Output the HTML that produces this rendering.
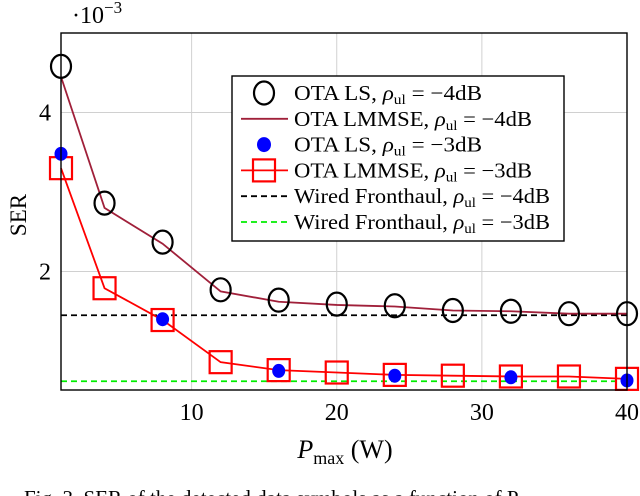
<!DOCTYPE html>
<html><head><meta charset="utf-8"><style>
html,body{margin:0;padding:0;background:#fff;overflow:hidden;width:640px;height:496px}
svg{display:block;font-family:"Liberation Serif",serif}
</style></head><body>
<svg id="chart" width="640" height="496" viewBox="0 0 640 496" xmlns="http://www.w3.org/2000/svg">
<g id="grid"></g><g id="series"></g><g id="axes"></g><g id="legend"></g>
</svg>
<script>
const xCats=[1,4,8,12,16,20,24,28,32,36,40];
const lsM4=[4.58,2.86,2.37,1.77,1.64,1.59,1.57,1.51,1.50,1.47,1.47];
const lmmseM4=[4.45,2.8,2.35,1.75,1.62,1.58,1.56,1.51,1.50,1.47,1.47];
const lsM3X=[1,8,16,24,32,40];
const lsM3=[3.48,1.40,0.75,0.69,0.67,0.63];
const lmmseM3=[3.30,1.79,1.39,0.86,0.76,0.73,0.70,0.69,0.68,0.68,0.65];
const wiredM4=1.45;
const wiredM3=0.62;
const xTicks=[10,20,30,40];
const yTicks=[2,4];
const ns="http://www.w3.org/2000/svg";
const L=61,R=627,T=33,B=390,xMin=1,xMax=40,yMin=0.51,yMax=5.0;
const sx=v=>L+(v-xMin)/(xMax-xMin)*(R-L);
const sy=v=>B-(v-yMin)/(yMax-yMin)*(B-T);
function mk(tag,attrs,parent,text){const e=document.createElementNS(ns,tag);for(const k in attrs)e.setAttribute(k,attrs[k]);if(text!==undefined)e.textContent=text;document.getElementById(parent)?document.getElementById(parent).appendChild(e):parent.appendChild(e);return e;}
xTicks.forEach(t=>{const g=mk('line',{x1:sx(t),x2:sx(t),y1:T,y2:B,stroke:'#d0d0d0','stroke-width':1},'grid');

});
yTicks.forEach(t=>{const g=mk('line',{x1:L,x2:R,y1:sy(t),y2:sy(t),stroke:'#d0d0d0','stroke-width':1},'grid');

});
const pts=(xs,ys)=>xs.map((x,i)=>sx(x)+','+sy(ys[i])).join(' ');
let e;
e=mk('line',{x1:L,x2:R,y1:sy(wiredM4),y2:sy(wiredM4),stroke:'#000','stroke-width':1.8,'stroke-dasharray':'6 4'},'series');


e=mk('line',{x1:L,x2:R,y1:sy(wiredM3),y2:sy(wiredM3),stroke:'#00ee00','stroke-width':1.8,'stroke-dasharray':'6 4'},'series');


e=mk('polyline',{points:pts(xCats,lmmseM4),fill:'none',stroke:'#a0203a','stroke-width':1.8},'series');


e=mk('polyline',{points:pts(xCats,lmmseM3),fill:'none',stroke:'#ff0000','stroke-width':1.8},'series');


xCats.forEach((x,i)=>{const c=mk('ellipse',{cx:sx(x),cy:sy(lsM4[i]),rx:10,ry:11.5,fill:'none',stroke:'#000','stroke-width':2.2},'series');

});
xCats.forEach((x,i)=>{const r=mk('rect',{x:sx(x)-11,y:sy(lmmseM3[i])-11,width:22,height:22,fill:'none',stroke:'#ff0000','stroke-width':2.2},'series');

});
lsM3X.forEach((x,i)=>{const c=mk('ellipse',{cx:sx(x),cy:sy(lsM3[i]),rx:6.5,ry:7,fill:'#0000ff'},'series');

});
e=mk('rect',{x:L,y:T,width:R-L,height:B-T,fill:'none',stroke:'#000','stroke-width':1.4},'axes');


xTicks.forEach(t=>{const tx=mk('text',{x:sx(t),y:420,'font-size':24,'text-anchor':'middle'},'axes',String(t));

});
yTicks.forEach(t=>{const tx=mk('text',{x:51,y:sy(t)+8,'font-size':24,'text-anchor':'end'},'axes',String(t));

});
e=mk('text',{x:72,y:23,'font-size':24},'axes');
e.innerHTML='·10<tspan dy="-10" font-size="17">−3</tspan>';


e=mk('text',{x:0,y:0,'font-size':23,'text-anchor':'middle',transform:'translate(26,215) rotate(-90)'},'axes','SER');


e=mk('text',{x:345,y:458,'font-size':26,'text-anchor':'middle'},'axes');
e.innerHTML='<tspan font-style="italic">P</tspan><tspan font-size="18" dy="6">max</tspan><tspan dy="-6"> (W)</tspan>';


e=mk('text',{x:24,y:505,'font-size':21},'axes','Fig. 3. SER of the detected data symbols as a function of P');


e=mk('rect',{x:232,y:76,width:332,height:165,fill:'#fff',stroke:'#000','stroke-width':1.4},'legend');


const labels=['OTA LS, ','OTA LMMSE, ','OTA LS, ','OTA LMMSE, ','Wired Fronthaul, ','Wired Fronthaul, '];
const dbs=['−4dB','−4dB','−3dB','−3dB','−4dB','−3dB'];
const widths=[188,238,188,238,256,256];
labels.forEach((lb,i)=>{const y=93+i*25.8;const g=mk('g',{},'legend');


if(i===0)mk('ellipse',{cx:264,cy:y,rx:10,ry:11.5,fill:'none',stroke:'#000','stroke-width':2.2},g);
if(i===1)mk('line',{x1:241,x2:288,y1:y,y2:y,stroke:'#a0203a','stroke-width':1.8},g);
if(i===2)mk('ellipse',{cx:264,cy:y,rx:7,ry:7.5,fill:'#0000ff'},g);
if(i===3){mk('line',{x1:241,x2:288,y1:y,y2:y,stroke:'#ff0000','stroke-width':1.8},g);mk('rect',{x:253,y:y-11,width:22,height:22,fill:'none',stroke:'#ff0000','stroke-width':2.2},g);}
if(i===4)mk('line',{x1:241,x2:288,y1:y,y2:y,stroke:'#000','stroke-width':1.8,'stroke-dasharray':'6 4'},g);
if(i===5)mk('line',{x1:241,x2:288,y1:y,y2:y,stroke:'#00ee00','stroke-width':1.8,'stroke-dasharray':'6 4'},g);
const t=mk('text',{x:294,y:y+7,'font-size':21,textLength:widths[i],lengthAdjust:'spacingAndGlyphs'},g);
t.innerHTML=lb+'<tspan font-style="italic">ρ</tspan><tspan font-size="14" dy="4">ul</tspan><tspan dy="-4"> = '+dbs[i]+'</tspan>';});
</script>
</body></html>
